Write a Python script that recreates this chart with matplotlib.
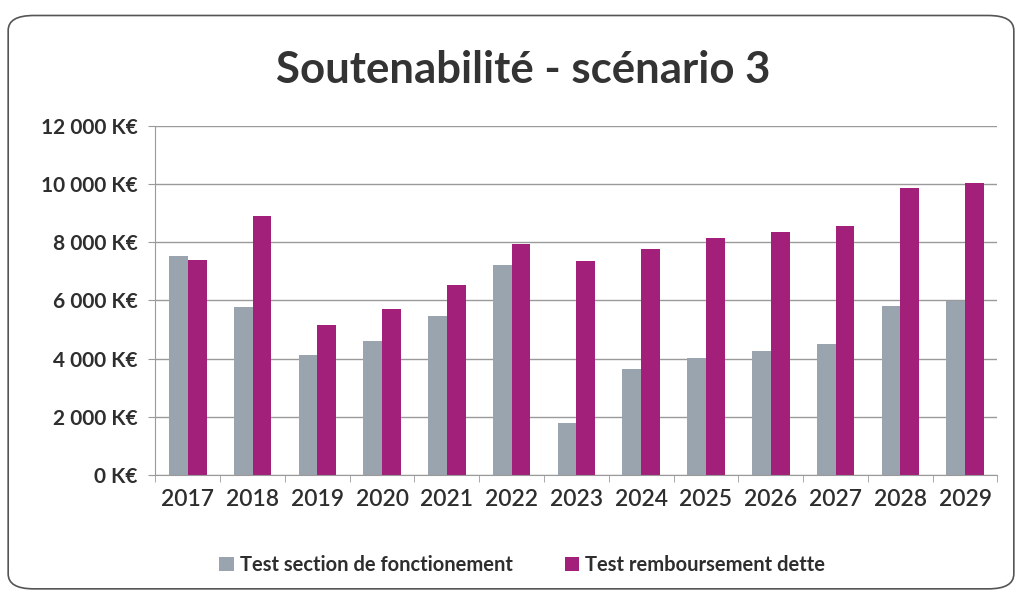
import matplotlib.pyplot as plt
import numpy as np
from matplotlib.patches import FancyBboxPatch
from matplotlib.ticker import FuncFormatter, FixedLocator

years = ['2017', '2018', '2019', '2020', '2021', '2022', '2023',
         '2024', '2025', '2026', '2027', '2028', '2029']
test_fonctionnement = [7540, 5770, 4110, 4590, 5450, 7220, 1790,
                       3650, 4020, 4250, 4500, 5810, 5980]
test_dette = [7400, 8910, 5140, 5690, 6540, 7940, 7370,
              7750, 8150, 8360, 8560, 9850, 10030]

label_fonct = 'Test section de fonctionement'
label_dette = 'Test remboursement dette'

col_grey = '#9aa4ae'
col_mag = '#a2207a'
txt_col = '#2e2e2e'

plt.rcParams['font.family'] = ['Lato', 'DejaVu Sans']

fig = plt.figure(figsize=(10.22, 5.96), dpi=100)

# cadre arrondi
frame = FancyBboxPatch((0.008, 0.012), 0.984, 0.962,
                       boxstyle='round,pad=0,rounding_size=0.025',
                       transform=fig.transFigure, fill=False,
                       edgecolor='#555555', linewidth=1.2)
fig.patches.append(frame)

ax = fig.add_axes([0.152, 0.203, 0.824, 0.586])

x = np.arange(len(years))
w = 0.29
ax.bar(x - w / 2, test_fonctionnement, w, color=col_grey, label=label_fonct)
ax.bar(x + w / 2, test_dette, w, color=col_mag, label=label_dette)

ax.set_xlim(-0.5, len(years) - 0.5)
ax.set_ylim(0, 12000)
ax.set_yticks(np.arange(0, 12001, 2000))
ax.yaxis.set_major_formatter(FuncFormatter(
    lambda v, p: '{:,.0f} K€'.format(v).replace(',', ' ')))
ax.set_xticks(x)
ax.set_xticklabels(years)
ax.xaxis.set_minor_locator(FixedLocator(np.arange(-0.5, len(years), 1)))

ax.grid(axis='y', color='#9a9a9a', linewidth=1.0)
ax.set_axisbelow(True)
for s in ['top', 'right']:
    ax.spines[s].set_visible(False)
ax.spines['left'].set_color('#9a9a9a')
ax.spines['bottom'].set_color('#9a9a9a')

ax.tick_params(axis='x', which='major', length=0, pad=10,
               labelsize=16.5, labelcolor=txt_col)
ax.tick_params(axis='x', which='minor', length=5, color='#9a9a9a')
ax.tick_params(axis='y', length=5, color='#9a9a9a', pad=8,
               labelsize=15, labelcolor=txt_col)
for lab in ax.get_yticklabels():
    lab.set_fontweight('bold')
for lab in ax.get_xticklabels():
    lab.set_fontweight('semibold')

fig.text(0.512, 0.882, 'Soutenabilité - scénario 3', ha='center', va='center',
         fontsize=31.5, fontweight='bold', color='#333333')

leg = fig.legend(loc='center', bbox_to_anchor=(0.511, 0.052), ncol=2,
                 frameon=False, fontsize=14.5, handlelength=0.7,
                 handleheight=0.7, handletextpad=0.3, columnspacing=2.6)
for t in leg.get_texts():
    t.set_fontweight('bold')
    t.set_color(txt_col)

fig.savefig('out.png', dpi=100)
